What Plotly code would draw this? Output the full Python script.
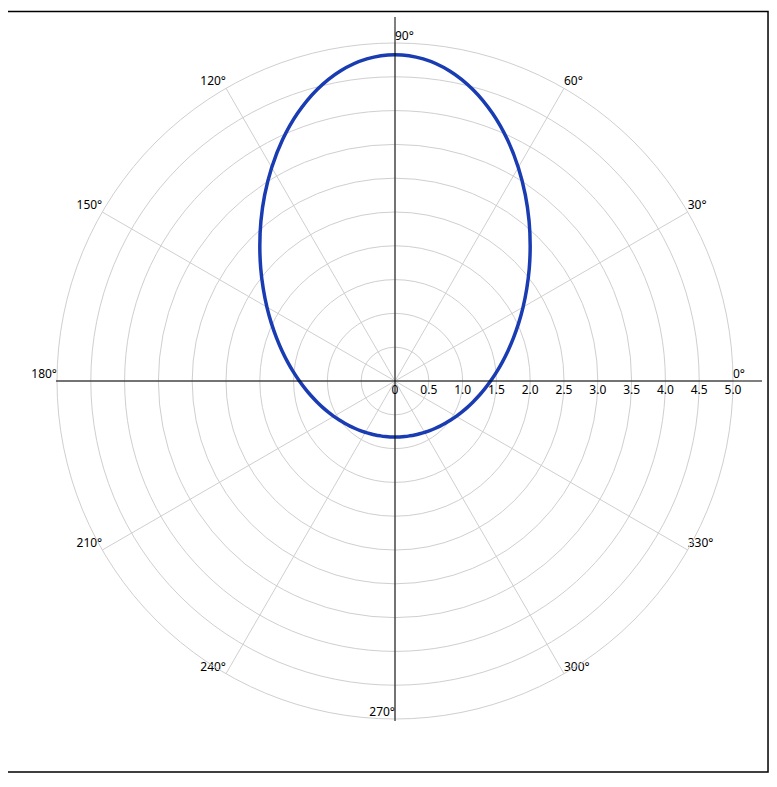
import plotly.graph_objects as go

# Curve samples (theta in degrees, r)
theta_deg = [0, 5, 10, 15, 20, 25, 30, 35, 40, 45, 50, 55, 60, 65, 70, 75, 80, 85, 90,
             95, 100, 105, 110, 115, 120, 125, 130, 135, 140, 145, 150, 155, 160, 165, 170, 175, 180,
             185, 190, 195, 200, 205, 210, 215, 220, 225, 230, 235, 240, 245, 250, 255, 260, 265, 270,
             275, 280, 285, 290, 295, 300, 305, 310, 315, 320, 325, 330, 335, 340, 345, 350, 355, 360]
r_vals = [1.414, 1.507, 1.612, 1.731, 1.865, 2.017, 2.188, 2.379, 2.593, 2.828,
          3.086, 3.361, 3.648, 3.938, 4.215, 4.462, 4.658, 4.784, 4.828,
          4.784, 4.658, 4.462, 4.215, 3.938, 3.648, 3.361, 3.086, 2.828,
          2.593, 2.379, 2.188, 2.017, 1.865, 1.731, 1.612, 1.507, 1.414,
          1.332, 1.260, 1.195, 1.139, 1.089, 1.045, 1.006, 0.972, 0.943,
          0.917, 0.896, 0.877, 0.862, 0.850, 0.840, 0.834, 0.830, 0.828,
          0.830, 0.834, 0.840, 0.850, 0.862, 0.877, 0.896, 0.917, 0.943,
          0.972, 1.006, 1.045, 1.089, 1.139, 1.195, 1.260, 1.332, 1.414]

# Radial ticks
r_tickvals = [0, 0.5, 1.0, 1.5, 2.0, 2.5, 3.0, 3.5, 4.0, 4.5, 5.0]
r_ticktext = ["0", "0.5", "1.0", "1.5", "2.0", "2.5", "3.0", "3.5", "4.0", "4.5", "5.0"]

# Angular ticks
ang_vals = [0, 30, 60, 90, 120, 150, 180, 210, 240, 270, 300, 330]
ang_text = [f"{a}°" for a in ang_vals]
ang_pos = ["top right", "top right", "top right", "top right",
           "top left", "top left", "top left", "top left", "top left", "top left",
           "top right", "top right"]

FONT = dict(family="Noto Sans, Arial, sans-serif", size=12, color="#000")

fig = go.Figure()

fig.add_trace(go.Scatterpolar(
    r=r_vals, theta=theta_deg, mode="lines",
    line=dict(color="#1a3cb2", width=3.5, shape="spline", smoothing=1),
    hoverinfo="skip", showlegend=False,
))

fig.add_trace(go.Scatterpolar(
    r=[5.0] * len(ang_vals), theta=ang_vals, mode="text",
    text=ang_text, textposition=ang_pos, textfont=FONT,
    cliponaxis=False, hoverinfo="skip", showlegend=False,
))

fig.update_layout(
    width=777, height=787,
    margin=dict(l=49, r=52, t=35, b=76, pad=0),
    paper_bgcolor="white",
    font=FONT,
    polar=dict(
        domain=dict(x=[0, 1], y=[0, 1]),
        bgcolor="white",
        radialaxis=dict(
            range=[0, 5], tickvals=r_tickvals, ticktext=r_ticktext,
            angle=0, tickangle=0, side="clockwise",
            showline=False, ticks="", gridcolor="#cfcfcf", gridwidth=1,
            tickfont=FONT,
        ),
        angularaxis=dict(
            tickvals=ang_vals, showticklabels=False, ticks="",
            rotation=0, direction="counterclockwise",
            showline=True, linecolor="#cfcfcf", linewidth=1,
            gridcolor="#cfcfcf", gridwidth=1,
        ),
    ),
    shapes=[
        # outer frame
        dict(type="rect", xref="paper", yref="paper",
             x0=-0.0754, x1=1.0518, y0=-0.0784, y1=1.0466,
             line=dict(color="black", width=1.5), layer="above"),
        # horizontal axis line
        dict(type="line", xref="paper", yref="paper",
             x0=-0.0015, x1=1.0429, y0=0.5, y1=0.5,
             line=dict(color="black", width=1), layer="above"),
        # vertical axis line
        dict(type="line", xref="paper", yref="paper",
             x0=0.5, x1=0.5, y0=-0.003, y1=1.0385,
             line=dict(color="black", width=1), layer="above"),
    ],
)

fig.write_html("out.html")
